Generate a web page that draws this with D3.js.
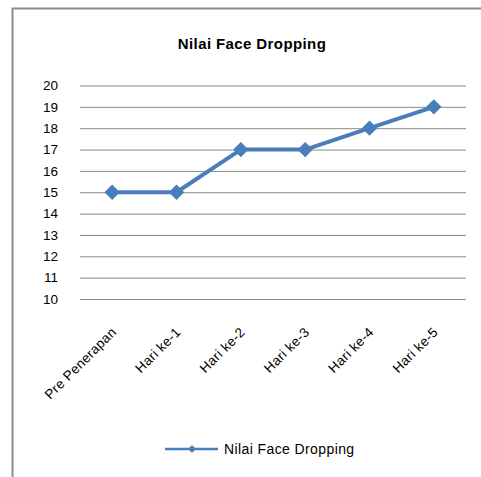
<!DOCTYPE html>
<html>
<head>
<meta charset="utf-8">
<script src="https://d3js.org/d3.v7.min.js"></script>
<style>
  body { margin: 0; background: #fff; }
  text { font-family: "Liberation Sans", "DejaVu Sans", sans-serif; fill: #000; }
</style>
</head>
<body>
<div id="chart"></div>
<script>
// data
const categories = ["Pre Penerapan", "Hari ke-1", "Hari ke-2", "Hari ke-3", "Hari ke-4", "Hari ke-5"];
const values = [15, 15, 17, 17, 18, 19];
const yTicks = [10, 11, 12, 13, 14, 15, 16, 17, 18, 19, 20];
const seriesName = "Nilai Face Dropping";

const width = 481, height = 477;
const color = "#4a7ebb";

const svg = d3.select("#chart").append("svg")
  .attr("width", width).attr("height", height);

// frame of the chart area
svg.append("rect")
  .attr("x", 12.5).attr("y", 8.5)
  .attr("width", 480).attr("height", 480)
  .attr("fill", "none").attr("stroke", "#8c8c8c").attr("stroke-width", 2);

svg.append("text")
  .attr("x", 252).attr("y", 49)
  .attr("text-anchor", "middle")
  .attr("font-size", 15).attr("font-weight", "bold")
  .attr("letter-spacing", 0.4)
  .text("Nilai Face Dropping");

const plot = { left: 80, right: 466, top: 85.5, bottom: 299 };

const x = d3.scaleBand().domain(categories).range([plot.left, plot.right]);
const y = d3.scaleLinear().domain([10, 20]).range([plot.bottom, plot.top]);

// gridlines + y labels
const yAxis = d3.axisLeft(y).tickValues(yTicks).tickSize(-(plot.right - plot.left)).tickPadding(22).tickFormat(d3.format("d"));
const gy = svg.append("g").attr("transform", `translate(${plot.left},0)`).call(yAxis);
gy.select(".domain").remove();
gy.selectAll("line").attr("stroke", "#8a8a8a").attr("stroke-width", 1);
gy.selectAll("text").attr("font-size", 13.5).attr("fill", "#000").attr("font-family", "Liberation Sans, sans-serif");

// x labels rotated
const gx = svg.append("g");
gx.selectAll("text").data(categories).enter().append("text")
  .attr("transform", d => `translate(${x(d) + x.bandwidth() / 2 + 5},${plot.bottom + 34}) rotate(-45)`)
  .attr("text-anchor", "end")
  .attr("font-size", 13.5)
  .attr("letter-spacing", 0.3)
  .text(d => d);

// line
const line = d3.line()
  .x((d, i) => x(categories[i]) + x.bandwidth() / 2)
  .y(d => y(d));

svg.append("path").datum(values)
  .attr("d", line)
  .attr("fill", "none").attr("stroke", color).attr("stroke-width", 4)
  .attr("stroke-linejoin", "round");

const diamond = d3.symbol().type(d3.symbolDiamond2).size(150);
svg.selectAll(".pt").data(values).enter().append("path")
  .attr("class", "pt")
  .attr("transform", (d, i) => `translate(${x(categories[i]) + x.bandwidth() / 2},${y(d)})`)
  .attr("d", diamond)
  .attr("fill", color);

// legend
const lg = svg.append("g").attr("transform", "translate(165,449)");
lg.append("line").attr("x1", 0).attr("x2", 53).attr("y1", 0).attr("y2", 0)
  .attr("stroke", color).attr("stroke-width", 2.5);
lg.append("path").attr("transform", "translate(27,0)")
  .attr("d", d3.symbol().type(d3.symbolDiamond2).size(40)).attr("fill", color);
lg.append("text").attr("x", 59).attr("y", 5).attr("font-size", 14)
  .attr("letter-spacing", 0.4).text(seriesName);
</script>
</body>
</html>
